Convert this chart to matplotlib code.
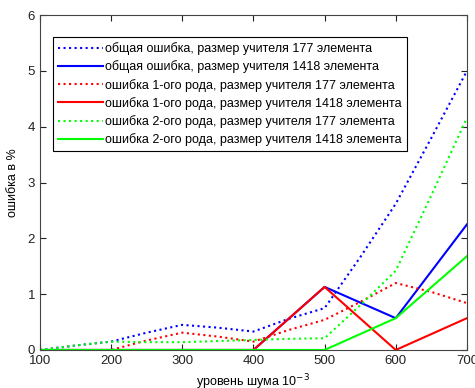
import matplotlib
matplotlib.use("Agg")
import matplotlib.pyplot as plt

plt.rcParams['font.family'] = ['Liberation Sans', 'DejaVu Sans']

# noise level (x 10^-3)
noise = [100, 200, 300, 400, 500, 600, 700]
# dotted curves every 50
noise_fine = [100, 150, 200, 250, 300, 350, 400, 450, 500, 550, 600, 650, 700]

# teacher size 177 (dotted)
total_177 = [0, 0.08, 0.15, 0.31, 0.45, 0.40, 0.33, 0.56, 0.75, 1.66, 2.62, 3.80, 5.0]
type1_177 = [0, 0, 0, 0.17, 0.31, 0.24, 0.15, 0.36, 0.54, 0.86, 1.20, 1.04, 0.84]
type2_177 = [0, 0.08, 0.15, 0.14, 0.14, 0.16, 0.18, 0.20, 0.21, 0.80, 1.42, 2.77, 4.16]

# teacher size 1418 (solid)
total_1418 = [0, 0, 0, 0, 1.13, 0.57, 2.25]
type1_1418 = [0, 0, 0, 0, 1.13, 0, 0.57]
type2_1418 = [0, 0, 0, 0, 0, 0.57, 1.68]

labels = [
    'общая ошибка, размер учителя 177 элемента',
    'общая ошибка, размер учителя 1418 элемента',
    'ошибка 1-ого рода, размер учителя 177 элемента',
    'ошибка 1-ого рода, размер учителя 1418 элемента',
    'ошибка 2-ого рода, размер учителя 177 элемента',
    'ошибка 2-ого рода, размер учителя 1418 элемента',
]

fig = plt.figure(figsize=(4.75, 3.88), dpi=100)
ax = fig.add_axes([0.084, 0.098, 0.899, 0.863])

ax.plot(noise_fine, total_177, color='b', ls=':', lw=1.5, label=labels[0])
ax.plot(noise, total_1418, color='b', ls='-', lw=1.5, label=labels[1])
ax.plot(noise_fine, type1_177, color='r', ls=':', lw=1.5, label=labels[2])
ax.plot(noise, type1_1418, color='r', ls='-', lw=1.5, label=labels[3])
ax.plot(noise_fine, type2_177, color='#00ff00', ls=':', lw=1.5, label=labels[4])
ax.plot(noise, type2_1418, color='#00ff00', ls='-', lw=1.5, label=labels[5])

ax.set_xlim(100, 700)
ax.set_ylim(0, 6)
ax.set_xticks(noise)
ax.set_yticks(range(7))
ax.tick_params(direction='in', top=True, right=True, labelsize=9.5,
               length=4, colors='#222222')
for s in ax.spines.values():
    s.set_color('#444444')

ax.set_xlabel('уровень шума 10$^{-3}$', fontsize=9, labelpad=4)
ax.set_ylabel('ошибка в %', fontsize=9, labelpad=6)

leg = ax.legend(loc='upper left', bbox_to_anchor=(0.03, 0.934), fontsize=9,
                handlelength=3.6, handletextpad=0.2, labelspacing=0.42,
                borderpad=0.4, borderaxespad=0, fancybox=False, framealpha=1,
                edgecolor='black')
leg.get_frame().set_linewidth(0.8)

fig.savefig('out.png', dpi=100)
